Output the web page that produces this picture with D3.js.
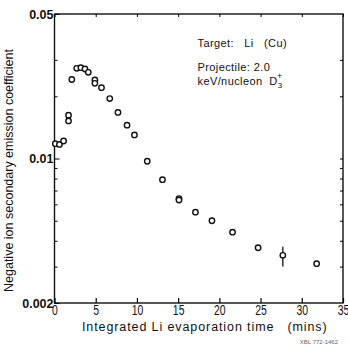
<!DOCTYPE html>
<html>
<head>
<meta charset="utf-8">
<script src="https://cdn.jsdelivr.net/npm/d3@7"></script>
<style>
  body { margin: 0; background: #fff; }
  svg text { font-family: "Liberation Sans", "DejaVu Sans", sans-serif; fill: #111; }
</style>
</head>
<body>
<div id="chart"></div>
<script>
// data
var times = [0.1, 0.6, 1.1, 1.7, 1.7, 2.1, 2.7, 3.2, 3.7, 4.1, 4.9, 4.9, 5.7, 6.7, 7.7, 8.8, 9.7, 11.25, 13.1, 15.1, 15.1, 17.1, 19.1, 21.6, 24.7, 27.7, 31.8];
var coeffs = [0.0118, 0.0117, 0.01215, 0.0162, 0.0152, 0.0241, 0.0273, 0.0275, 0.0271, 0.0261, 0.0240, 0.0231, 0.0220, 0.0195, 0.0167, 0.0145, 0.0130, 0.0097, 0.0079, 0.0064, 0.0063, 0.0055, 0.0050, 0.0044, 0.0037, 0.0034, 0.0031];
var errTime = [27.7];
var errLow = [0.0030];
var errHigh = [0.00374];

var xTicks = [0, 5, 10, 15, 20, 25, 30, 35];
var yLabels = [0.05, 0.01, 0.002];
var yLabelText = ["0.05", "0.01", "0.002"];
var yMinor = [0.03, 0.02, 0.009, 0.008, 0.007, 0.006, 0.005, 0.004, 0.003];

var svgWidth = 348, svgHeight = 356;
var margin = { top: 14, right: 5, bottom: 53, left: 54.5 };
var width = svgWidth - margin.left - margin.right;
var height = svgHeight - margin.top - margin.bottom;

var svg = d3.select("#chart").append("svg")
  .attr("width", svgWidth)
  .attr("height", svgHeight)
  .append("g")
  .attr("transform", "translate(" + margin.left + "," + margin.top + ")");

var xScale = d3.scaleLinear().domain([0, 35]).range([0, width]);
var yScale = d3.scaleLog().domain([0.002, 0.05]).range([height, 0]);

// frame
svg.append("rect")
  .attr("width", width).attr("height", height)
  .attr("fill", "none").attr("stroke", "#111").attr("stroke-width", 1.4);

// bottom axis, ticks point inward
var bottomAxis = d3.axisBottom(xScale).tickValues(xTicks).tickSize(-5).tickPadding(2);
var gx = svg.append("g").attr("transform", "translate(0," + height + ")").call(bottomAxis);
gx.select(".domain").remove();
gx.selectAll("text").attr("font-size", 14.5).attr("transform", "scale(0.72,1)");
gx.selectAll("line").attr("stroke-width", 1.2);

// top axis ticks
var topAxis = d3.axisTop(xScale).tickValues(xTicks).tickSize(-3).tickFormat("");
svg.append("g").call(topAxis).select(".domain").remove();

// left axis
var leftAxis = d3.axisLeft(yScale).tickValues(yLabels).tickSize(-5)
  .tickFormat(function(d, i) { return yLabelText[i]; });
var gy = svg.append("g").call(leftAxis);
gy.select(".domain").remove();
gy.selectAll("text").attr("font-size", 12.5).attr("font-weight", "bold").attr("dx", 2);

var leftMinor = d3.axisLeft(yScale).tickValues(yMinor).tickSize(-3).tickFormat("");
svg.append("g").call(leftMinor).select(".domain").remove();

var rightMinor = d3.axisRight(yScale).tickValues(yMinor.concat([0.01])).tickSize(-3).tickFormat("");
svg.append("g").attr("transform", "translate(" + width + ",0)").call(rightMinor).select(".domain").remove();

// axis titles
svg.append("text")
  .attr("transform", "translate(" + (-42) + "," + (height / 2 + 12) + ") rotate(-90)")
  .attr("text-anchor", "middle")
  .attr("font-size", 12.5)
  .text("Negative ion secondary emission coefficient");

svg.append("text")
  .attr("x", width / 2 + 6)
  .attr("y", height + 28)
  .attr("text-anchor", "middle")
  .attr("font-size", 12.5)
  .attr("letter-spacing", 0.9)
  .attr("xml:space", "preserve")
  .text("Integrated Li evaporation time   (mins)");

// annotation
var note = svg.append("g").attr("transform", "translate(143,0)")
  .attr("font-size", 11).attr("letter-spacing", 0.4);
note.append("text").attr("y", 33).attr("xml:space", "preserve").text("Target:   Li   (Cu)");
note.append("text").attr("y", 57).text("Projectile: 2.0");
var t3 = note.append("text").attr("y", 71).attr("xml:space", "preserve");
t3.append("tspan").text("keV/nucleon  D");
t3.append("tspan").attr("font-size", 8).attr("dy", 3).attr("dx", 0).text("3");
t3.append("tspan").attr("font-size", 9).attr("dy", -9).attr("dx", -5.5).text("+");

// error bar
svg.selectAll(".err")
  .data(errTime)
  .enter().append("line")
  .attr("class", "err")
  .attr("x1", function(d) { return xScale(d); })
  .attr("x2", function(d) { return xScale(d); })
  .attr("y1", function(d, i) { return yScale(errLow[i]); })
  .attr("y2", function(d, i) { return yScale(errHigh[i]); })
  .attr("stroke", "#111").attr("stroke-width", 1.3);

// points
svg.selectAll(".dot")
  .data(times)
  .enter().append("circle")
  .attr("class", "dot")
  .attr("cx", function(d) { return xScale(d); })
  .attr("cy", function(d, i) { return yScale(coeffs[i]); })
  .attr("r", 2.7)
  .attr("fill", "#fff")
  .attr("stroke", "#111")
  .attr("stroke-width", 1.4);

// plate number
svg.append("text")
  .attr("x", width - 5)
  .attr("y", height + 41)
  .attr("text-anchor", "end")
  .attr("font-size", 6)
  .style("fill", "#666")
  .text("XBL 772-1462");
</script>
</body>
</html>
